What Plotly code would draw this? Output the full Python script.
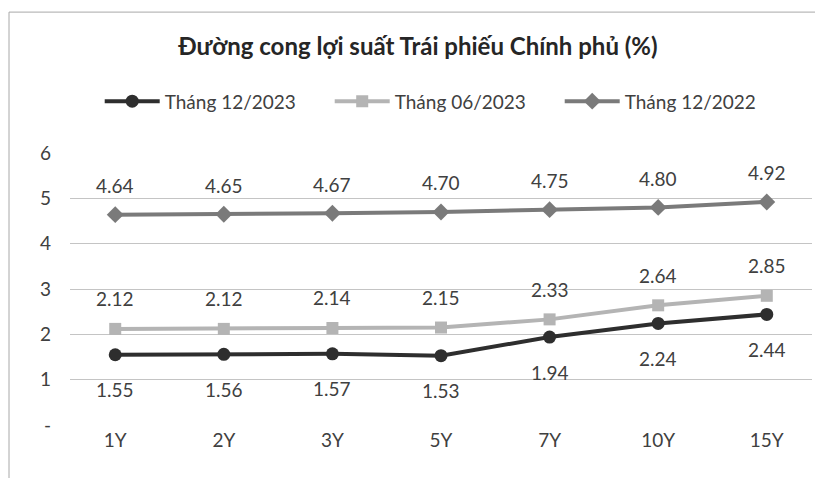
import plotly.graph_objects as go

categories = ["1Y", "2Y", "3Y", "5Y", "7Y", "10Y", "15Y"]
s_dec2023 = [1.55, 1.56, 1.57, 1.53, 1.94, 2.24, 2.44]
s_jun2023 = [2.12, 2.12, 2.14, 2.15, 2.33, 2.64, 2.85]
s_dec2022 = [4.64, 4.65, 4.67, 4.70, 4.75, 4.80, 4.92]
names = ["Tháng 12/2023", "Tháng 06/2023", "Tháng 12/2022"]
y_ticks = [0, 1, 2, 3, 4, 5, 6]
y_tick_labels = ["-", "1", "2", "3", "4", "5", "6"]

FONT = "Lato, Carlito, Calibri, sans-serif"
TXT = "#404040"

fig = go.Figure()
series = [
    (s_dec2023, names[0], "#2e2e2e", "circle", 13),
    (s_jun2023, names[1], "#b4b4b4", "square", 12),
    (s_dec2022, names[2], "#7a7a7a", "diamond", 13),
]
for vals, nm, col, sym, ms in series:
    fig.add_trace(go.Scatter(
        x=categories, y=vals, name=nm, mode="lines+markers",
        line=dict(color=col, width=4),
        marker=dict(color=col, symbol=sym, size=ms),
    ))

annotations = []
for vals, shift in [(s_dec2023, -35), (s_jun2023, 30), (s_dec2022, 29)]:
    for c, v in zip(categories, vals):
        annotations.append(dict(
            x=c, y=v, xref="x", yref="y", text=f"{v:.2f}", showarrow=False,
            yshift=shift, font=dict(family=FONT, size=19, color=TXT),
        ))

fig.update_layout(
    width=815, height=470,
    margin=dict(l=62, r=11, t=145, b=53, autoexpand=False),
    paper_bgcolor="white", plot_bgcolor="white",
    title=dict(text="<b>Đường cong lợi suất Trái phiếu Chính phủ (%)</b>",
               x=0.503, xanchor="center", y=0.917, yanchor="middle",
               font=dict(family=FONT, size=24, color="#262626")),
    legend=dict(orientation="h", x=0.505, xanchor="center", y=1.19, yanchor="middle",
                font=dict(family=FONT, size=19, color=TXT), itemwidth=55,
                entrywidth=160, traceorder="normal"),
    showlegend=True,
    annotations=annotations,
    shapes=[
        dict(type="line", xref="paper", yref="paper", x0=-0.0822, x1=1.05, y0=1.518, y1=1.518,
             line=dict(color="#a8a8a8", width=1)),
        dict(type="line", xref="paper", yref="paper", x0=-0.0822, x1=-0.0822, y0=1.518, y1=-0.2,
             line=dict(color="#a8a8a8", width=1)),
    ],
)
fig.update_xaxes(type="category", showgrid=False, showline=False, ticks="", automargin=False,
                 tickfont=dict(family=FONT, size=19, color=TXT), ticklabelstandoff=2)
fig.update_yaxes(range=[0, 6], tickvals=y_ticks, ticktext=y_tick_labels, automargin=False,
                 showgrid=True, gridcolor="#c4c4c4", gridwidth=1, zeroline=False,
                 showline=False, tickfont=dict(family=FONT, size=19, color=TXT),
                 ticklabelstandoff=18)
fig.write_html("out.html")
